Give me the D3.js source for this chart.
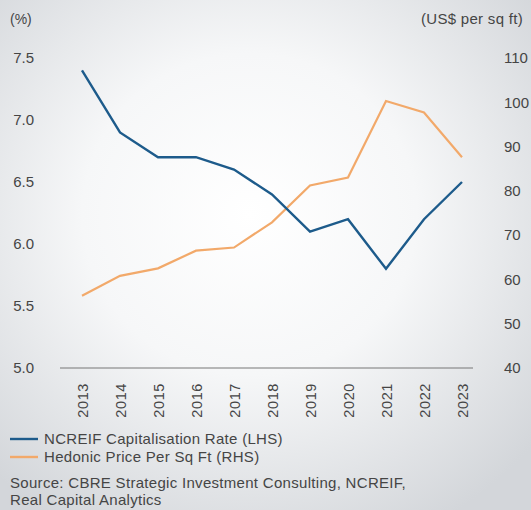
<!DOCTYPE html>
<html>
<head>
<meta charset="utf-8">
<script src="https://cdn.jsdelivr.net/npm/d3@7"></script>
<style>
  html, body { margin: 0; padding: 0; }
  body { width: 531px; height: 510px; overflow: hidden; }
  svg { display: block; font-family: "Liberation Sans", Arial, sans-serif; }
</style>
</head>
<body>
<svg id="chart" width="531" height="510"></svg>
<script>
// Annual series, 2013–2023
const years = [2013, 2014, 2015, 2016, 2017, 2018, 2019, 2020, 2021, 2022, 2023];
const capRate = [7.4, 6.9, 6.7, 6.7, 6.6, 6.4, 6.1, 6.2, 5.8, 6.2, 6.5];
const pricePerSqFt = [56.3, 60.8, 62.5, 66.5, 67.2, 72.9, 81.2, 83.0, 100.3, 97.7, 87.6];

const leftTicks = [5.0, 5.5, 6.0, 6.5, 7.0, 7.5];
const rightTicks = [40, 50, 60, 70, 80, 90, 100, 110];

const legendItems = [
  { label: "NCREIF Capitalisation Rate (LHS)", color: "#1d5b8b" },
  { label: "Hedonic Price Per Sq Ft (RHS)", color: "#f2a96a" }
];
const sourceLines = [
  "Source: CBRE Strategic Investment Consulting, NCREIF,",
  "Real Capital Analytics"
];

const svg = d3.select("#chart");
const W = 531, H = 510;

// soft vignette background
const defs = svg.append("defs");
const grad = defs.append("radialGradient")
  .attr("id", "bg").attr("cx", "47%").attr("cy", "42%").attr("r", "70%");
grad.append("stop").attr("offset", "0%").attr("stop-color", "#ffffff");
grad.append("stop").attr("offset", "45%").attr("stop-color", "#f6f7f8");
grad.append("stop").attr("offset", "100%").attr("stop-color", "#d3d6da");
svg.append("rect").attr("width", W).attr("height", H).attr("fill", "url(#bg)");

const x = d3.scalePoint().domain(years).range([82, 462]);
const yL = d3.scaleLinear().domain([5.0, 7.5]).range([368, 58]);
const yR = d3.scaleLinear().domain([40, 110]).range([368, 58]);

const textColor = "#454545";

// left axis labels
const gL = svg.append("g").attr("transform", "translate(34,0)")
  .call(d3.axisLeft(yL).tickValues(leftTicks).tickFormat(d3.format(".1f")).tickSize(0).tickPadding(0));
gL.select(".domain").remove();
gL.selectAll("text").attr("font-size", 15).attr("fill", textColor).attr("font-family", null);

// right axis labels
const gR = svg.append("g").attr("transform", "translate(504,0)")
  .call(d3.axisRight(yR).tickValues(rightTicks).tickSize(0).tickPadding(0));
gR.select(".domain").remove();
gR.selectAll("text").attr("font-size", 15)
  .attr("fill", textColor).attr("font-family", null);

// units
svg.append("text").attr("x", 10).attr("y", 24).attr("font-size", 14)
  .attr("fill", textColor).text("(%)");
svg.append("text").attr("x", 523).attr("y", 24).attr("font-size", 15)
  .attr("letter-spacing", 0.3)
  .attr("text-anchor", "end").attr("fill", textColor).text("(US$ per sq ft)");

// baseline
svg.append("line").attr("x1", 60).attr("x2", 473).attr("y1", 368).attr("y2", 368)
  .attr("stroke", "#777").attr("stroke-width", 1);

// year labels, rotated
const gX = svg.append("g").attr("transform", "translate(0,368)")
  .call(d3.axisBottom(x).tickSize(0).tickPadding(0));
gX.select(".domain").remove();
gX.selectAll("text")
  .attr("font-size", 14.5).attr("letter-spacing", 0.6)
  .attr("fill", textColor).attr("font-family", null)
  .attr("transform", "rotate(-90)")
  .attr("text-anchor", "end")
  .attr("x", -15).attr("y", 0).attr("dy", "0.35em");

// lines
const lineL = d3.line().x((d, i) => x(years[i])).y(d => yL(d));
const lineR = d3.line().x((d, i) => x(years[i])).y(d => yR(d));

svg.append("path").datum(pricePerSqFt).attr("d", lineR)
  .attr("fill", "none").attr("stroke", legendItems[1].color).attr("stroke-width", 2.2);
svg.append("path").datum(capRate).attr("d", lineL)
  .attr("fill", "none").attr("stroke", legendItems[0].color).attr("stroke-width", 2.4);

// legend
const lg = svg.append("g").selectAll("g").data(legendItems).join("g")
  .attr("transform", (d, i) => `translate(10,${439 + i * 18})`);
lg.append("line").attr("x1", 0).attr("x2", 28).attr("y1", 0).attr("y2", 0)
  .attr("stroke", d => d.color).attr("stroke-width", 2.4);
lg.append("text").attr("x", 34).attr("y", 0).attr("dy", "0.36em")
  .attr("font-size", 15).attr("letter-spacing", 0.3)
  .attr("fill", textColor).text(d => d.label);

// source
svg.append("g").selectAll("text").data(sourceLines).join("text")
  .attr("x", 10).attr("y", (d, i) => 488 + i * 17)
  .attr("font-size", 15).attr("letter-spacing", 0.3)
  .attr("fill", textColor).text(d => d);
</script>
</body>
</html>
